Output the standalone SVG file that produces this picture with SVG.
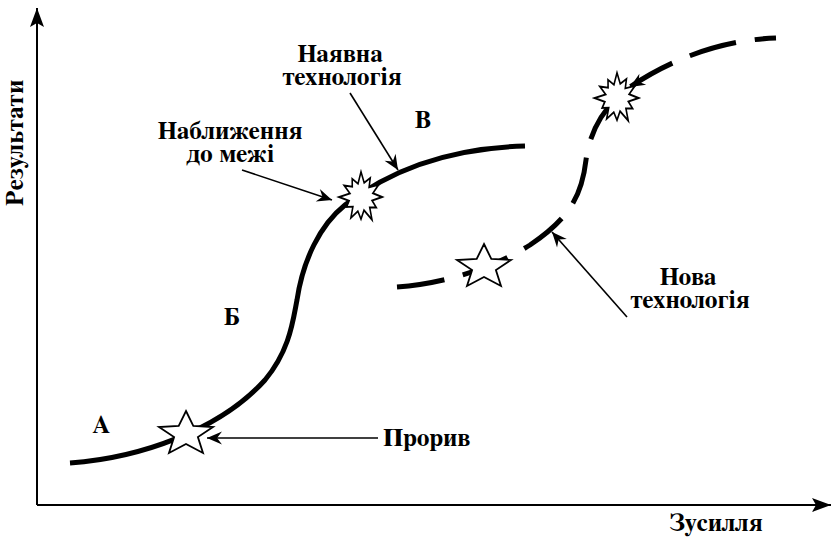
<svg xmlns="http://www.w3.org/2000/svg" width="834" height="537" viewBox="0 0 834 537">
<style>
text{font-family:"FreeSerif","DejaVu Serif",serif;font-weight:bold;font-size:25px;fill:#000}
.c{text-anchor:middle}
.axis{stroke:#000;stroke-width:2;fill:none}
.curve{stroke:#000;stroke-width:5;fill:none}
.dash{stroke:#000;stroke-width:5;fill:none;stroke-dasharray:48 19}
.ptr{stroke:#000;stroke-width:1.6;fill:none}
.mark{fill:#fff;stroke:#000;stroke-width:1.8;stroke-linejoin:miter}
</style>
<defs>
<marker id="ah" markerUnits="userSpaceOnUse" markerWidth="20" markerHeight="16" viewBox="-16 -8 20 16" refX="0" refY="0" orient="auto">
<path d="M0,0 L-15,-6.5 L-10,0 L-15,6.5 Z" fill="#000"/>
</marker>
<marker id="axh" markerUnits="userSpaceOnUse" markerWidth="24" markerHeight="18" viewBox="-21 -9 24 18" refX="0" refY="0" orient="auto">
<path d="M0,0 L-19,-7 L-15,0 L-19,7 Z" fill="#000"/>
</marker>
<polygon id="star" points="0,-23 7.3,-8.1 27,-7 11.9,3.1 17,19 0,10 -17,19 -11.9,3.1 -27,-7 -7.3,-8.1"/>
<polygon id="burst" points="24,0 12.6,3.4 17.3,10 9.9,9.9 12.5,21.7 3.4,12.6 0,21 -3.6,13.5 -11.5,19.9 -9.2,9.2 -16.5,9.5 -13.5,3.6 -25,0 -12.6,-3.4 -19.1,-11 -9.9,-9.9 -10,-17.3 -3.4,-12.6 0,-24 3.6,-13.5 10.5,-18.2 9.2,-9.2 19.9,-11.5 13.5,-3.6"/>
</defs>

<g id="axes">
<path class="axis" d="M37,505 L37,8" marker-end="url(#axh)"/>
<path class="axis" d="M37,505 L831,505" marker-end="url(#axh)"/>
</g>

<g id="curves">
<path id="existing-curve" class="curve" d="M70,463 C140,458 220,430 265,380 C290,350 293,320 297,300 C303,260 320,225 345,205 C390,170 450,148 525,146"/>
<path id="new-curve" class="dash" d="M397,287 C440,284 490,270 530,245 C570,218 582,195 586,160 C590,130 605,105 630,87 C670,60 720,40 776,38"/>
</g>

<g id="connectors">
<path class="ptr" d="M378,438 L207,438" marker-end="url(#ah)"/>
<path class="ptr" d="M242,170 L332,200" marker-end="url(#ah)"/>
<path class="ptr" d="M350,93 L398,170" marker-end="url(#ah)"/>
<path class="ptr" d="M627,317 L552,232" marker-end="url(#ah)"/>
<path class="ptr" d="M648,76 L630,87" marker-end="url(#ah)"/>
</g>

<g id="node-breakthrough"><use href="#star" class="mark" transform="translate(186,434)"/></g>
<g id="node-new-breakthrough"><use href="#star" class="mark" transform="translate(484,267)"/></g>
<g id="node-limit"><use href="#burst" class="mark" transform="translate(361,197) scale(0.88,1.05)"/></g>
<g id="node-new-limit"><use href="#burst" class="mark" transform="translate(617,98) scale(0.9,1.05)"/></g>

<g id="labels">
<text class="c" transform="translate(23,143) rotate(-90)">Результати</text>
<text class="c" x="716" y="531">Зусилля</text>
<text class="c" x="340" y="62">Наявна</text>
<text class="c" x="342" y="85">технологія</text>
<text class="c" x="423" y="128">В</text>
<text class="c" x="230" y="139">Наближення</text>
<text class="c" x="230" y="162">до межі</text>
<text class="c" x="232" y="325">Б</text>
<text class="c" x="101" y="433">А</text>
<text x="383" y="446">Прорив</text>
<text class="c" x="688" y="285">Нова</text>
<text class="c" x="690" y="308">технологія</text>
</g>
</svg>
